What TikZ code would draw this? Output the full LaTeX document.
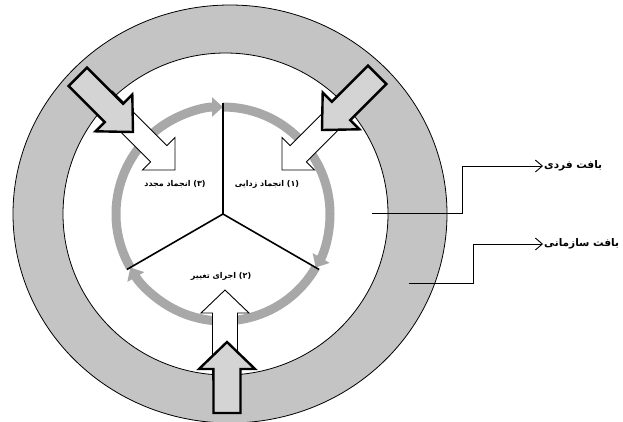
\documentclass[tikz,border=0pt]{standalone}
\usepackage{fontspec}
\usetikzlibrary{arrows.meta}
\TeXXeTstate=1
\newfontfamily\farsi[Script=Arabic]{DejaVu Sans}
\definecolor{ringgray}{HTML}{C4C4C4}
\definecolor{cyclegray}{HTML}{A8A8A8}
\definecolor{pushgray}{HTML}{D4D4D4}

\tikzset{
  pics/blockarrow/.style n args={4}{code={
    \path[pic actions] (0,0) -- (-#4,#3/2) -- (-#4,#2/2) -- (-#1,#2/2)
      -- (-#1,-#2/2) -- (-#4,-#2/2) -- (-#4,-#3/2) -- cycle;}},
  bigpush/.style={draw,fill=pushgray,line width=2.4pt,line join=miter},
  smallpush/.style={draw,fill=white,line width=0.9pt,line join=miter},
  cyclearc/.style={cyclegray,line width=9pt,-{Triangle[width=19pt,length=11pt]}},
  spoke/.style={line width=1.6pt},
  steplabel/.style={inner sep=1pt,font=\farsi\bfseries\fontsize{8}{10}\selectfont},
  textlabel/.style={inner sep=1pt,anchor=west,font=\farsi\bfseries\fontsize{10.5}{12}\selectfont},
  pointer/.style={line width=0.9pt,-{Straight Barb[length=7pt,width=12pt]}}
}

\begin{document}
\begin{tikzpicture}[x=1pt,y=1pt]
  \useasboundingbox (0,0) rectangle (623,-421);

  % ring
  \draw[fill=ringgray,even odd rule,line width=0.8pt]
    (230,-214) ellipse[x radius=217,y radius=209]
    (225.5,-214) ellipse[x radius=162.5,y radius=161];

  % cycle
  \coordinate (hub) at (223,-214);
  \path (hub) ++(90:111) coordinate (s1);
  \path (hub) ++(-30:111) coordinate (s2);
  \path (hub) ++(210:111) coordinate (s3);
  \draw[cyclearc] (hub) ++(90:107) arc[start angle=90,end angle=-30,radius=107];
  \draw[cyclearc] (hub) ++(-30:107) arc[start angle=-30,end angle=-150,radius=107];
  \draw[cyclearc] (hub) ++(210:107) arc[start angle=210,end angle=90,radius=107];
  \draw[spoke] (hub)--(s1);
  \draw[spoke] (hub)--(s2);
  \draw[spoke] (hub)--(s3);

  \node[steplabel] (defrost) at (267,-184) {\beginR(۱) انجماد زدایی\endR};
  \node[steplabel] (refreeze) at (175,-184) {\beginR(۳) انجماد مجدد\endR};
  \node[steplabel] (change) at (221,-276) {\beginR(۲) اجرای تغییر\endR};

  % arrows
  \coordinate (tlsmall) at (175,-170);
  \coordinate (trsmall) at (282,-170);
  \coordinate (bsmall) at (225,-290);
  \coordinate (tlbig) at (133,-132);
  \coordinate (trbig) at (322,-130);
  \coordinate (bbig) at (227,-342);
  \pic[smallpush,rotate=-45] at (tlsmall) {blockarrow={100}{23}{46}{23}};
  \pic[smallpush,rotate=225] at (trsmall) {blockarrow={100}{23}{46}{23}};
  \pic[smallpush,rotate=90] at (bsmall) {blockarrow={90}{25}{48}{23}};
  \pic[bigpush,rotate=-45] at (tlbig) {blockarrow={78}{26}{52}{27}};
  \pic[bigpush,rotate=225] at (trbig) {blockarrow={78}{26}{52}{27}};
  \pic[bigpush,rotate=90] at (bbig) {blockarrow={71}{27}{56}{27}};

  % labels
  \node[textlabel] (fardi) at (543,-166) {\beginR بافت فردی\endR};
  \node[textlabel] (sazmani) at (543,-244) {\beginR بافت سازمانی\endR};
  \coordinate (f0) at (372,-213);
  \coordinate (z0) at (409,-283);
  \draw[pointer] (f0) -| (462,-166) -- (fardi.west);
  \draw[pointer] (z0) -| (473,-244) -- (sazmani.west);
\end{tikzpicture}
\end{document}
